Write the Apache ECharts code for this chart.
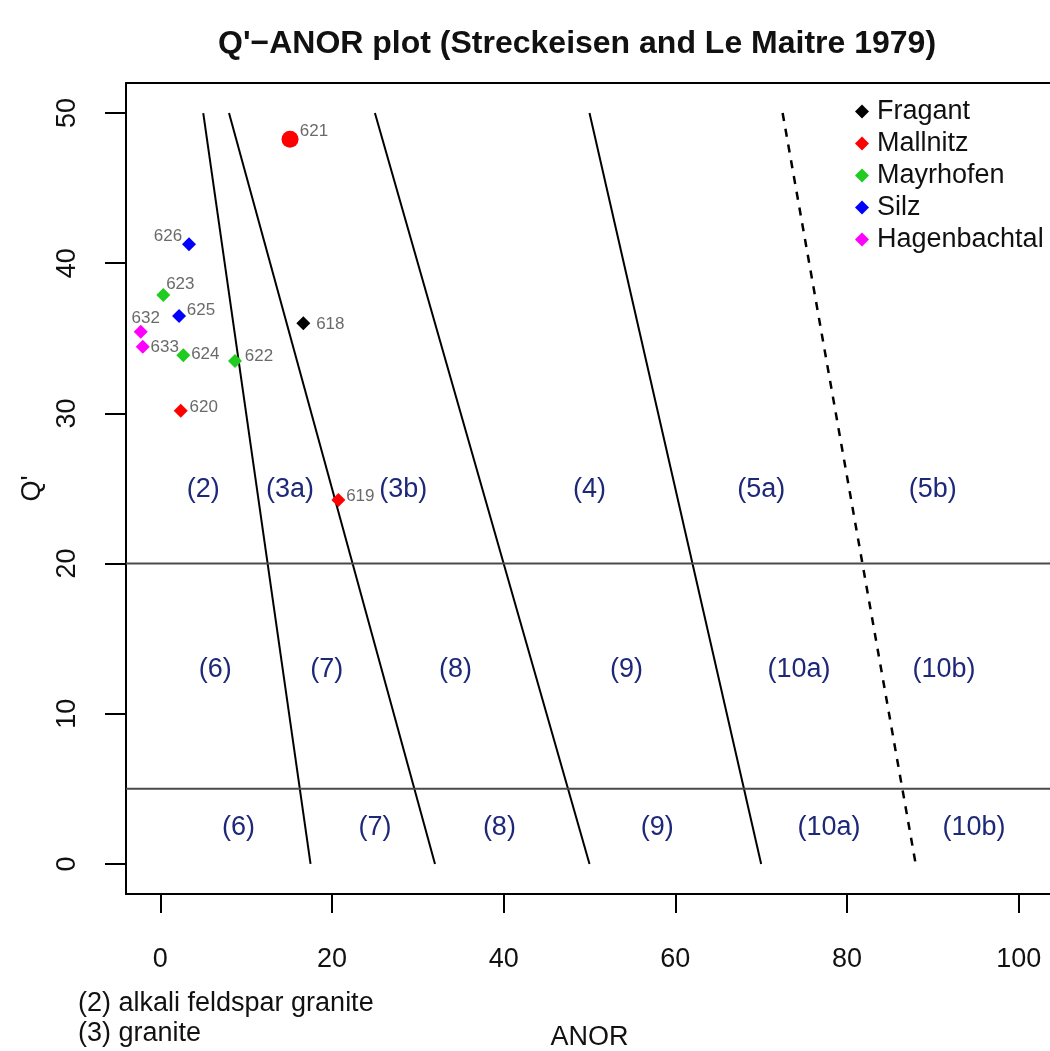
<!DOCTYPE html>
<html>
<head>
<meta charset="utf-8">
<script src="https://cdn.jsdelivr.net/npm/echarts@6/dist/echarts.min.js"></script>
<style>
  html, body { margin: 0; padding: 0; background: #fff; }
  #chart { width: 1050px; height: 1051px; }
</style>
</head>
<body>
<div id="chart"></div>
<script>
// ---- samples: [ANOR, Q', sample id] ----
const fragant      = [[16.66, 36.00, '618']];
const mallnitz     = [[15.11, 48.25, '621'], [2.38, 30.18, '620'], [20.74, 24.23, '619']];
const mayrhofen    = [[0.35, 37.88, '623'], [2.68, 33.87, '624'], [8.70, 33.49, '622']];
const silz         = [[3.34, 41.26, '626'], [2.18, 36.48, '625']];
const hagenbachtal = [[-2.28, 35.44, '632'], [-2.05, 34.44, '633']];

// ---- field boundaries (Streckeisen & Le Maitre 1979) ----
const solidBoundaries = [
  [[5, 50], [17.5, 0]],
  [[8, 50], [32, 0]],
  [[25, 50], [50, 0]],
  [[50, 50], [70, 0]]
];
const dashedBoundary = [[72.5, 50], [88, 0]];
const qLevels = [20, 5];

// ---- field names: [ANOR, Q', label] ----
const fieldNames = [
  [5, 25, '(2)'], [15.1, 25, '(3a)'], [28.3, 25, '(3b)'], [50, 25, '(4)'], [70, 25, '(5a)'], [90, 25, '(5b)'],
  [6.4, 13, '(6)'], [19.4, 13, '(7)'], [34.4, 13, '(8)'], [54.3, 13, '(9)'], [74.4, 13, '(10a)'], [91.3, 13, '(10b)'],
  [9.1, 2.5, '(6)'], [25, 2.5, '(7)'], [39.5, 2.5, '(8)'], [57.9, 2.5, '(9)'], [77.9, 2.5, '(10a)'], [94.8, 2.5, '(10b)']
];

const xTicks = [0, 20, 40, 60, 80, 100];
const yTicks = [0, 10, 20, 30, 40, 50];
const footnotes = ['(2) alkali feldspar granite', '(3) granite'];

// label placement next to each sample marker (pixels)
const labelOffset = {
  '618': [27, 1], '621': [24, -8], '620': [23, -3], '619': [22, -4],
  '623': [17, -11], '624': [22, -1], '622': [24, -5],
  '626': [-21, -8], '625': [22, -6], '632': [5, -13], '633': [22, 1]
};

const FONT = '"Liberation Sans", Arial, Helvetica, sans-serif';
const INK = '#111';

function samplePoints(rows, bigCircleId) {
  return rows.map(function (r) {
    const item = {
      value: [r[0], r[1]],
      name: r[2],
      label: { offset: labelOffset[r[2]] || [20, 0] }
    };
    if (r[2] === bigCircleId) {
      item.symbol = 'circle';
      item.symbolSize = 17;
    }
    return item;
  });
}

function sampleSeries(name, color, rows, bigCircleId) {
  return {
    name: name,
    type: 'scatter',
    symbol: 'diamond',
    symbolSize: 14,
    itemStyle: { color: color, opacity: 1 },
    z: 5,
    label: {
      show: true,
      position: 'inside',
      formatter: '{b}',
      fontFamily: FONT,
      fontSize: 17,
      color: '#6a6a6a'
    },
    emphasis: { disabled: true },
    data: samplePoints(rows, bigCircleId)
  };
}

const series = [];
solidBoundaries.forEach(function (seg) {
  series.push({
    type: 'line', data: seg, symbol: 'none', silent: true,
    lineStyle: { color: '#000', width: 2 }, z: 2
  });
});
series.push({
  type: 'line', data: dashedBoundary, symbol: 'none', silent: true,
  lineStyle: { color: '#000', width: 2.5, type: [8, 8] }, z: 2
});
qLevels.forEach(function (q) {
  series.push({
    type: 'line', data: [[-4, q], [104, q]], symbol: 'none', silent: true,
    lineStyle: { color: '#4a4a4a', width: 2 }, z: 2
  });
});
series.push({
  type: 'scatter',
  symbolSize: 0,
  silent: true,
  z: 3,
  itemStyle: { opacity: 1 },
  label: {
    show: true, position: 'inside', formatter: '{b}', offset: [0, 1],
    fontFamily: FONT, fontSize: 27, color: '#1e2878', opacity: 1
  },
  data: fieldNames.map(function (f) { return { value: [f[0], f[1]], name: f[2] }; })
});
series.push(sampleSeries('Fragant', '#000000', fragant));
series.push(sampleSeries('Mallnitz', '#ff0000', mallnitz, '621'));
series.push(sampleSeries('Mayrhofen', '#1fcc1f', mayrhofen));
series.push(sampleSeries('Silz', '#0000ff', silz));
series.push(sampleSeries('Hagenbachtal', '#ff00ff', hagenbachtal));

const frameLine = { show: true, onZero: false, lineStyle: { color: '#000', width: 2 } };

const chart = echarts.init(document.getElementById('chart'), null, { renderer: 'canvas' });
chart.setOption({
  animation: false,
  backgroundColor: '#ffffff',
  title: {
    text: "Q'\u2212ANOR plot (Streckeisen and Le Maitre 1979)",
    left: 213,
    top: 23,
    textStyle: { fontFamily: FONT, fontSize: 32, fontWeight: 'bold', color: INK }
  },
  legend: {
    data: ['Fragant', 'Mallnitz', 'Mayrhofen', 'Silz', 'Hagenbachtal'],
    orient: 'vertical',
    left: 850,
    top: 93,
    icon: 'diamond',
    itemWidth: 14,
    itemHeight: 14,
    itemGap: 5,
    textStyle: { fontFamily: FONT, fontSize: 27, color: INK, padding: [0, 0, 0, 3] }
  },
  grid: {
    left: 126, top: 83, width: 927, height: 811, show: false,
    containLabel: false, outerBoundsMode: 'none'
  },
  xAxis: [{
    type: 'value', min: -4, max: 104, position: 'bottom',
    name: 'ANOR', nameLocation: 'middle', nameGap: 130,
    nameTextStyle: { fontFamily: FONT, fontSize: 27, color: INK },
    axisLine: frameLine,
    splitLine: { show: false },
    axisTick: { show: true, customValues: xTicks, length: 19, lineStyle: { color: '#000', width: 2 } },
    axisLabel: { customValues: xTicks, margin: 52, fontFamily: FONT, fontSize: 27, color: INK }
  }, {
    // top edge of the plot frame
    type: 'value', min: -4, max: 104, position: 'top',
    axisLine: frameLine,
    axisTick: { show: false }, axisLabel: { show: false }, splitLine: { show: false }
  }],
  yAxis: [{
    type: 'value', min: -2, max: 52, position: 'left',
    name: "Q'", nameLocation: 'middle', nameGap: 77, nameRotate: 90,
    nameTextStyle: { fontFamily: FONT, fontSize: 27, color: INK },
    axisLine: frameLine,
    splitLine: { show: false },
    axisTick: { show: true, customValues: yTicks, length: 21, lineStyle: { color: '#000', width: 2 } },
    axisLabel: { customValues: yTicks, rotate: 90, margin: 45, fontFamily: FONT, fontSize: 27, color: INK }
  }, {
    // right edge of the plot frame
    type: 'value', min: -2, max: 52, position: 'right',
    axisLine: frameLine,
    axisTick: { show: false }, axisLabel: { show: false }, splitLine: { show: false }
  }],
  graphic: footnotes.map(function (t, i) {
    return {
      type: 'text', left: 78, top: 990 + i * 30,
      style: { text: t, fontFamily: FONT, fontSize: 27, fill: INK }
    };
  }),
  series: series
});
</script>
</body>
</html>
